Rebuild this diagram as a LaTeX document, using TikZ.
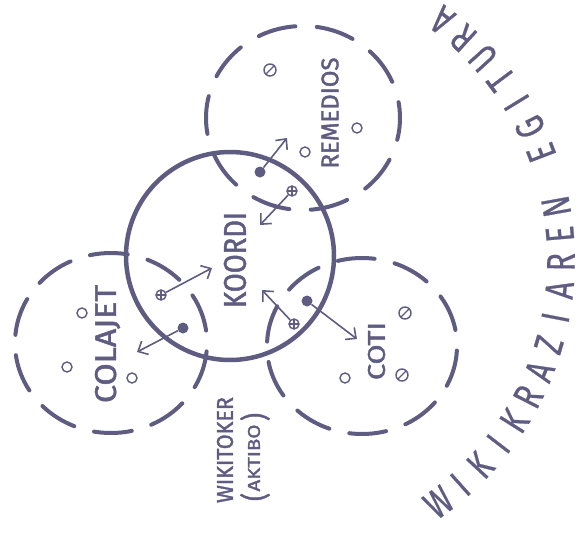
\documentclass[tikz,border=0pt]{standalone}
\usepackage{fontspec}
\usepackage{graphicx}
\usetikzlibrary{arrows.meta}
\newfontfamily\hand[FakeStretch=0.82,FakeBold=1.4]{Fira Sans}
\newfontfamily\arcfont[FakeStretch=0.75,FakeBold=0.6]{Fira Sans}
\definecolor{ink}{RGB}{95,92,130}
\newcommand{\fitto}[3]{\resizebox{#1}{#2}{\hand #3}}

\begin{document}
\begin{tikzpicture}[x=1pt,y=1pt,yscale=-1,xscale=1,
  ring/.style={draw=ink,line width=4.5pt},
  dashring/.style={draw=ink,line width=4pt,line cap=round},
  lbl/.style={text=ink,inner sep=0pt},
  hole/.style={circle,draw=ink,line width=1.4pt,minimum size=10pt,inner sep=0pt},
  dotnode/.style={circle,fill=ink,minimum size=11pt,inner sep=0pt},
  plusnode/.style={hole,path picture={\draw[ink,line width=1.2pt] (path picture bounding box.north)--(path picture bounding box.south) (path picture bounding box.west)--(path picture bounding box.east);}},
  slashnode/.style={hole,minimum height=12pt,path picture={\draw[ink,line width=1.2pt] (path picture bounding box.north east)--(path picture bounding box.south west);}},
  arr/.style={draw=ink,line width=1.6pt,-{Straight Barb[length=8pt,width=15pt]}},
  arcletter/.style={text=ink,inner sep=0pt,font=\fontsize{40}{40}\arcfont}]

\useasboundingbox (0,0) rectangle (579,533);

% circles
\draw[ring] (230,256) circle [radius=104];
\draw[dashring,dash pattern=on 38pt off 21.4pt,dash phase=16pt] (303,118) ellipse [x radius=97,y radius=92];
\draw[dashring,dash pattern=on 37pt off 20.5pt,dash phase=53pt] (362,346) ellipse [x radius=95,y radius=88];
\draw[dashring,dash pattern=on 38pt off 20.4pt,dash phase=50pt] (111,343) ellipse [x radius=96,y radius=90];

% labels
\node[lbl,rotate=90] (koordi) at (235,260) {\fitto{96pt}{22pt}{KOORDI}};
\node[lbl,rotate=90] (remedios) at (330,113) {\fitto{111pt}{17pt}{REMEDIOS}};
\node[lbl,rotate=90] (coti) at (376.5,351) {\fitto{58pt}{17pt}{COTI}};
\node[lbl,rotate=90] (colajet) at (107.5,344) {\fitto{118pt}{21pt}{COLAJET}};
\node[lbl,rotate=90] (wikitoker) at (225,450) {\fitto{106pt}{16pt}{WIKITOKER}};
\node[lbl,rotate=90] (aktibo) at (254,458) {\fitto{67pt}{12pt}{AKTIBO}};
\node[lbl,rotate=90,font=\fontsize{30}{30}\hand] (lpar) at (255,497) {(};
\node[lbl,rotate=90,font=\fontsize{30}{30}\hand] (rpar) at (255,417) {)};

% members
\node[slashnode] (r1) at (270,70) {};
\node[hole] (r2) at (357,128) {};
\node[hole] (r3) at (305,152) {};
\node[slashnode] (c1) at (405,313) {};
\node[slashnode] (c2) at (402,375) {};
\node[hole] (c3) at (345,378) {};
\node[hole] (j1) at (82,313) {};
\node[hole] (j2) at (67,367) {};
\node[hole] (j3) at (132,378) {};

% moves
\node[dotnode] (d1) at (260,172) {};
\coordinate (e1) at (287,138);
\draw[arr] (d1) -- (e1);
\node[plusnode] (p1) at (292,191) {};
\coordinate (e2) at (260,225);
\draw[arr] (p1) -- (e2);
\node[plusnode] (p2) at (161,295) {};
\coordinate (e3) at (212,268);
\draw[arr] (p2) -- (e3);
\node[dotnode] (d2) at (183,328) {};
\coordinate (e4) at (137,352);
\draw[arr] (d2) -- (e4);
\node[plusnode] (p3) at (294,324) {};
\coordinate (e5) at (262,290);
\draw[arr] (p3) -- (e5);
\node[dotnode] (d3) at (307,301) {};
\coordinate (e6) at (357,339);
\draw[arr] (d3) -- (e6);

% title on the arc
\foreach \ch/\k in {W/0,I/1,K/2,I/3,K/4,R/5,A/6,Z/7,I/8,A/9,R/10,E/11,N/12,E/14,G/15,I/16,T/17,U/18,R/19,A/20}{
  \pgfmathsetmacro{\ang}{-53.6+\k*5.32}
  \node[arcletter,rotate=\ang+90] (t\k) at ({260+301*cos(\ang)},{260-301*sin(\ang)}) {\ch};
}
\end{tikzpicture}
\end{document}
